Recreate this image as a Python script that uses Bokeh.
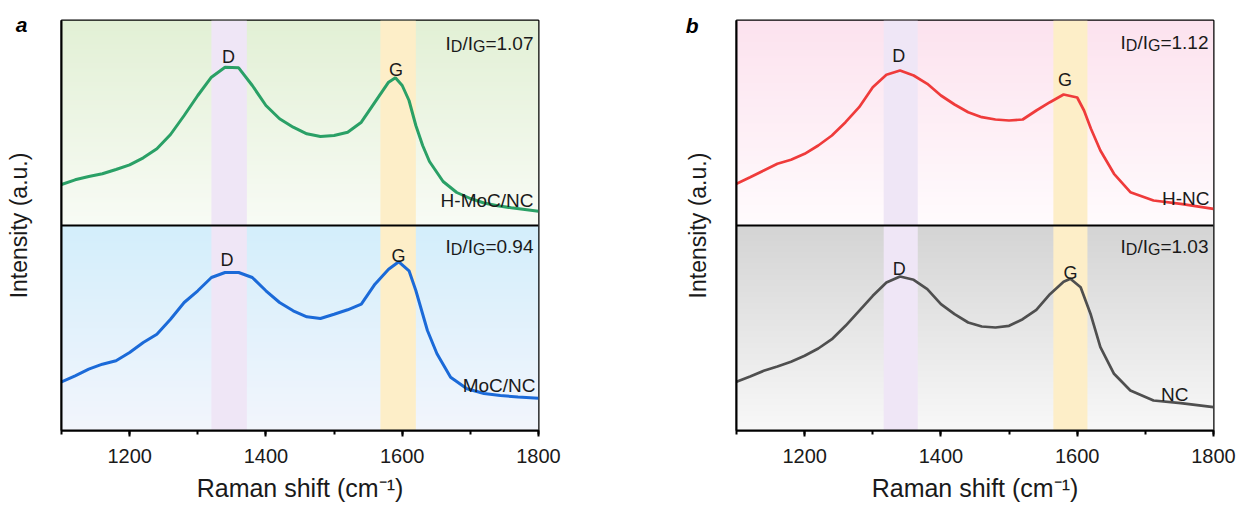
import numpy as np
from bokeh.plotting import figure
from bokeh.models import Range1d, Span, Label, SingleIntervalTicker, FixedTicker
from bokeh.layouts import row
from bokeh.embed import file_html
from bokeh.resources import INLINE

# ---------------- data (intensity, a.u.) ----------------
x_hmoc = [1100, 1120, 1140, 1160, 1180, 1200, 1220, 1240, 1260, 1280, 1300, 1320, 1340, 1360, 1380,
          1400, 1420, 1440, 1460, 1480, 1500, 1520, 1540, 1560, 1580, 1590, 1600, 1610, 1620, 1630,
          1640, 1660, 1680, 1700, 1720, 1740, 1760, 1780, 1800]
y_hmoc = [41, 45.7, 49, 51.7, 56, 60.7, 67.7, 76.7, 91, 110, 130, 148.3, 158.3, 157.7, 140,
          120, 106.7, 98.3, 91.7, 89, 90, 93.3, 103.3, 123.3, 143.3, 147.7, 140, 125, 100, 80,
          64, 44, 33, 27, 22.5, 19.7, 17.7, 16, 14.3]

x_moc = [1100, 1120, 1140, 1160, 1180, 1200, 1220, 1240, 1260, 1280, 1300, 1320, 1340, 1360, 1380,
         1400, 1420, 1440, 1460, 1480, 1500, 1520, 1540, 1560, 1580, 1595, 1610, 1620, 1637, 1651,
         1671, 1695, 1720, 1744, 1770, 1800]
y_moc = [48.7, 54.7, 61.3, 66.3, 69.7, 78, 88, 96.3, 111.3, 128, 139.7, 153, 158, 158, 153,
         139.7, 128, 119.7, 113.7, 112, 116.3, 120.7, 126.3, 146.3, 161.3, 168.7, 159.7, 140, 100, 76.7,
         53.3, 41.7, 37, 35, 33.5, 32.3]

x_hnc = [1100, 1120, 1140, 1160, 1180, 1200, 1220, 1240, 1260, 1280, 1300, 1320, 1340, 1360, 1380,
         1400, 1420, 1440, 1460, 1480, 1500, 1520, 1540, 1560, 1580, 1600, 1610, 1620, 1634, 1654,
         1678, 1712, 1752, 1800]
y_hnc = [41.7, 48.3, 55, 61.7, 65.7, 71.7, 80, 90, 103.3, 118.3, 138.3, 150.7, 155, 150, 141.7,
         130, 121, 113.3, 108.3, 106, 105, 106, 115, 123.3, 131, 128, 115, 97, 75, 51.7,
         33.3, 25, 21.7, 16.7]

x_nc = [1100, 1120, 1140, 1160, 1180, 1200, 1220, 1240, 1260, 1280, 1300, 1320, 1340, 1360, 1380,
        1400, 1420, 1440, 1460, 1480, 1500, 1520, 1540, 1560, 1580, 1590, 1605, 1620, 1634, 1654,
        1678, 1712, 1752, 1800]
y_nc = [48.7, 54, 59.7, 64, 68.7, 74.7, 82, 91.3, 104.7, 119.7, 134.7, 148, 154, 150.7, 141.3,
        126.3, 116.3, 108, 104, 103, 104.7, 111.3, 120.7, 136.3, 148.7, 151.7, 143.3, 115.7, 83.3, 56.7,
        40, 30, 27.3, 23.3]

ratio_labels = {"H-MoC/NC": "1.07", "MoC/NC": "0.94", "H-NC": "1.12", "NC": "1.03"}
d_band_a = (1320, 1372)
g_band_a = (1568, 1620)
d_band_b = (1316, 1366)
g_band_b = (1565, 1615)

FONT = "Liberation Sans"
TXT = "#1a1a1a"
SUB_H = 205  # height of each stacked sub-panel (a.u. scale)
FIG_W, FIG_H = 620, 505

W = {'I': .278, 'D': .722, '/': .278, 'G': .778, '=': .584, '.': .278}


def tw(s, size):
    return sum(W.get(ch, .556) for ch in s) * size


def put(p, px, py, text, size, align="left", style="normal", color=TXT):
    """Inside the frame. px, py: pixel offsets from the frame's left / top edge."""
    p.add_layout(Label(x=1100, y=2 * SUB_H - py, x_offset=px, text=text,
                       text_font=FONT, text_font_size=f"{size}px", text_align=align,
                       text_baseline="alphabetic", text_font_style=style, text_color=color))


def gradient(top, bottom, n=SUB_H):
    img = np.empty((n, 1), dtype=np.uint32)
    v = img.view(dtype=np.uint8).reshape((n, 1, 4))
    t = np.linspace(0.0, 1.0, n)  # row 0 = bottom
    for k in range(3):
        v[:, 0, k] = np.round(bottom[k] + (top[k] - bottom[k]) * t).astype(np.uint8)
    v[:, 0, 3] = 255
    return img


def ratio(p, px_end, py, value):
    pieces = [("I", 19, 0), ("D", 16, 3), ("/I", 19, 0), ("G", 16, 3), ("=" + value, 19, 0)]
    x = px_end
    for text, size, dy in reversed(pieces):
        put(p, x, py + dy, text, size, align="right")
        x -= tw(text, size)


def panel(left, right, grad_top, grad_bot, d_band, g_band, top_series, bot_series,
          color_top, color_bot, lw_top, lw_bot, letter, letter_y, letter_standoff, ylab_standoff):
    p = figure(width=FIG_W, height=FIG_H, output_backend="svg", toolbar_location=None,
               x_range=Range1d(1100, 1800), y_range=Range1d(0, 2 * SUB_H),
               min_border_left=left, min_border_right=right, min_border_top=20, min_border_bottom=75)
    p.xgrid.visible = False
    p.ygrid.visible = False
    p.outline_line_color = "black"
    p.outline_line_width = 2
    p.outline_line_alpha = 1
    p.background_fill_color = "white"
    p.border_fill_color = "white"

    # gradient backgrounds
    p.image_rgba(image=[gradient(*grad_top)], x=1100, y=SUB_H, dw=700, dh=SUB_H)
    p.image_rgba(image=[gradient(*grad_bot)], x=1100, y=0, dw=700, dh=SUB_H)
    # D / G bands
    p.quad(left=[d_band[0]], right=[d_band[1]], bottom=[0], top=[2 * SUB_H],
           fill_color="#efe6f6", line_color=None)
    p.quad(left=[g_band[0]], right=[g_band[1]], bottom=[0], top=[2 * SUB_H],
           fill_color="#fdeec8", line_color=None)

    xt, yt = top_series
    xb, yb = bot_series
    p.line(xt, [v + SUB_H for v in yt], line_color=color_top, line_width=lw_top)
    p.line(xb, yb, line_color=color_bot, line_width=lw_bot)

    p.add_layout(Span(location=SUB_H, dimension="width", line_color="black", line_width=2))

    # x axis
    xa = p.xaxis[0]
    xa.ticker = SingleIntervalTicker(interval=200, num_minor_ticks=2)
    xa.major_label_text_font = FONT
    xa.major_label_text_font_size = "20px"
    xa.major_label_text_color = TXT
    xa.major_label_standoff = 12
    xa.major_tick_in = 0
    xa.major_tick_out = 6
    xa.minor_tick_in = 0
    xa.minor_tick_out = 4
    xa.major_tick_line_width = 2
    xa.minor_tick_line_width = 2
    xa.axis_line_width = 2
    xa.axis_line_color = "black"
    xa.axis_label = "Raman shift (cm\u207b\u00b9)"
    xa.axis_label_text_font = FONT
    xa.axis_label_text_font_size = "25px"
    xa.axis_label_text_font_style = "normal"
    xa.axis_label_text_color = TXT
    xa.axis_label_standoff = 8

    # y axis: no ticks; the panel letter is carried as its only tick label
    ya = p.yaxis[0]
    ya.ticker = FixedTicker(ticks=[letter_y])
    ya.major_label_overrides = {letter_y: letter}
    ya.major_label_text_font = FONT
    ya.major_label_text_font_size = "21px"
    ya.major_label_text_font_style = "bold italic"
    ya.major_label_text_color = "black"
    ya.major_label_standoff = letter_standoff
    ya.major_tick_out = 0
    ya.major_tick_in = 0
    ya.major_tick_line_color = None
    ya.minor_tick_out = 0
    ya.minor_tick_in = 0
    ya.minor_tick_line_color = None
    ya.axis_line_width = 2
    ya.axis_line_color = "black"
    ya.axis_label = "Intensity (a.u.)"
    ya.axis_label_text_font = FONT
    ya.axis_label_text_font_size = "23px"
    ya.axis_label_text_font_style = "normal"
    ya.axis_label_text_color = TXT
    ya.axis_label_standoff = ylab_standoff
    return p


def peak_labels(p, items):
    for x, y, t in items:
        p.add_layout(Label(x=x, y=y, text=t, text_font=FONT, text_font_size="18px",
                           text_align="center", text_baseline="alphabetic", text_color=TXT))


# ---------------- panel a ----------------
pa = panel(61, 82, ((226, 240, 213), (248, 251, 245)), ((211, 238, 251), (242, 245, 252)),
           d_band_a, g_band_a, (x_hmoc, y_hmoc), (x_moc, y_moc),
           "#2aa066", "#1b6ad8", 3.0, 3.0, "a", 406, 34, -19)
peak_labels(pa, [(1345, SUB_H + 169, "D"), (1591, SUB_H + 155.7, "G"),
                 (1343, 170.7, "D"), (1594.5, 174.7, "G")])
ratio(pa, 472, 23.3, ratio_labels["H-MoC/NC"])
ratio(pa, 472, 226, ratio_labels["MoC/NC"])
put(pa, 472, 180, "H-MoC/NC", 19, align="right")
put(pa, 474, 365.3, "MoC/NC", 19, align="right")

# ---------------- panel b ----------------
pb = panel(116, 27, ((252, 226, 238), (255, 251, 253)), ((212, 212, 212), (248, 248, 248)),
           d_band_b, g_band_b, (x_hnc, y_hnc), (x_nc, y_nc),
           "#ef3b3b", "#4f4f4f", 2.7, 2.7, "b", 405, 38, -28)
peak_labels(pb, [(1338, SUB_H + 170, "D"), (1582, SUB_H + 145.7, "G"),
                 (1339, 161.3, "D"), (1590, 158, "G")])
ratio(pb, 472, 22, ratio_labels["H-NC"])
ratio(pb, 472, 226, ratio_labels["NC"])
put(pb, 473, 178.3, "H-NC", 19, align="right")
put(pb, 452, 373.7, "NC", 19, align="right")

layout = row(pa, pb, spacing=0)
open("out.html", "w").write(file_html(layout, INLINE))
